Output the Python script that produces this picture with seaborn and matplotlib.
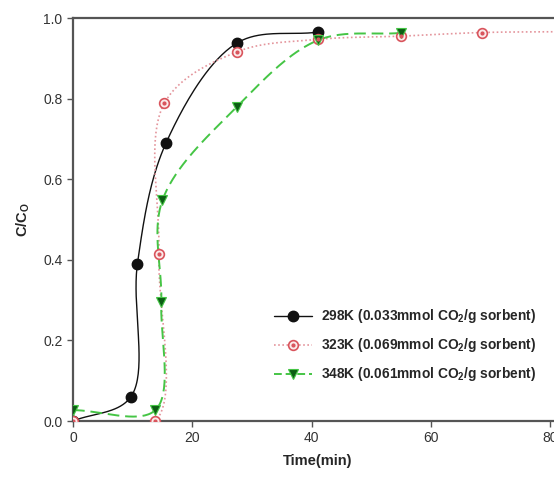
import numpy as np
import matplotlib
matplotlib.use("Agg")
import matplotlib.pyplot as plt
import seaborn as sns
from matplotlib.lines import Line2D
from matplotlib.legend_handler import HandlerTuple

# breakthrough data
t_298 = [0.0, 9.7, 10.8, 15.6, 27.5, 41.1]
c_298 = [0.0, 0.06, 0.39, 0.69, 0.938, 0.965]

t_323 = [0.0, 13.8, 14.4, 15.3, 27.5, 41.1, 55.0, 68.6, 82.0]
c_323 = [0.0, 0.0, 0.414, 0.788, 0.916, 0.947, 0.955, 0.964, 0.966]

t_348 = [0.0, 13.8, 14.8, 15.0, 27.5, 41.1, 55.0]
c_348 = [0.027, 0.027, 0.295, 0.548, 0.78, 0.945, 0.963]

labels = ["298K (0.033mmol CO$_\\mathbf{2}$/g sorbent)",
          "323K (0.069mmol CO$_\\mathbf{2}$/g sorbent)",
          "348K (0.061mmol CO$_\\mathbf{2}$/g sorbent)"]

XMAX = 82.0
SX = 488 / XMAX   # screen px per minute
SY = 404          # screen px per unit C/Co


def catmull_rom(x, y, n=40):
    # centripetal Catmull-Rom through the points, worked out in screen units
    P = np.column_stack([np.asarray(x) * SX, np.asarray(y) * SY])
    P = np.vstack([2 * P[0] - P[1], P, 2 * P[-1] - P[-2]])
    out = []
    for i in range(1, len(P) - 2):
        p0, p1, p2, p3 = P[i - 1], P[i], P[i + 1], P[i + 2]
        t0 = 0.0
        t1 = t0 + np.linalg.norm(p1 - p0) ** 0.5
        t2 = t1 + np.linalg.norm(p2 - p1) ** 0.5
        t3 = t2 + np.linalg.norm(p3 - p2) ** 0.5
        t = np.linspace(t1, t2, n)[:, None]
        a1 = (t1 - t) / (t1 - t0) * p0 + (t - t0) / (t1 - t0) * p1
        a2 = (t2 - t) / (t2 - t1) * p1 + (t - t1) / (t2 - t1) * p2
        a3 = (t3 - t) / (t3 - t2) * p2 + (t - t2) / (t3 - t2) * p3
        b1 = (t2 - t) / (t2 - t0) * a1 + (t - t0) / (t2 - t0) * a2
        b2 = (t3 - t) / (t3 - t1) * a2 + (t - t1) / (t3 - t1) * a3
        c = (t2 - t) / (t2 - t1) * b1 + (t - t1) / (t2 - t1) * b2
        out.append(c)
    c = np.vstack(out)
    return c[:, 0] / SX, c[:, 1] / SY


sns.set_style("ticks")
plt.rcParams["font.family"] = ["Liberation Sans", "DejaVu Sans"]
plt.rcParams["mathtext.fontset"] = "custom"
plt.rcParams["mathtext.rm"] = "Liberation Sans"
plt.rcParams["mathtext.bf"] = "Liberation Sans:bold"

fig = plt.figure(figsize=(5.54, 4.8), dpi=100)
ax = fig.add_axes([0.1318, 0.1229, 562 / 554 - 0.1318, 0.9625 - 0.1229])

blk = "#111111"
red_line = "#e4959c"
red_edge = "#d9545c"
grn_line = "#45c545"
grn_face = "#0c5e14"
red_dots = (0, (1, 1.5))
grn_dash = (0, (6, 3))

sx, sy = catmull_rom(t_298, c_298)
sns.lineplot(x=sx, y=sy, sort=False, estimator=None, color=blk, lw=1.0, ax=ax)
ax.plot(t_298, c_298, "o", ms=7.5, color=blk, ls="none", zorder=5)

sx, sy = catmull_rom(t_323, c_323)
sns.lineplot(x=sx, y=sy, sort=False, estimator=None, color=red_line, lw=1.2,
             ax=ax)
ax.lines[-1].set_linestyle(red_dots)
ax.plot(t_323, c_323, "o", ms=7, mfc="#fbeaea", mec=red_edge, mew=1.2,
        ls="none", zorder=5)
ax.plot(t_323, c_323, "o", ms=2, mfc=red_edge, mec=red_edge, ls="none",
        zorder=6)

sx, sy = catmull_rom(t_348, c_348)
sns.lineplot(x=sx, y=sy, sort=False, estimator=None, color=grn_line, lw=1.4,
             ax=ax)
ax.lines[-1].set_linestyle(grn_dash)
ax.plot(t_348, c_348, "v", ms=6.5, mfc=grn_face, mec=grn_line, mew=0.8,
        ls="none", zorder=5)

ax.set_xlim(0, XMAX)
ax.set_ylim(0, 1.0)
ax.set_xticks([0, 20, 40, 60, 80])
ax.set_yticks([0.0, 0.2, 0.4, 0.6, 0.8, 1.0])
ax.set_yticklabels(["0.0", "0.2", "0.4", "0.6", "0.8", "1.0"])
for sp in ax.spines.values():
    sp.set_color("#555555")
    sp.set_linewidth(1.6)
ax.tick_params(direction="out", length=4, width=1, colors="#555555",
               labelcolor="#333333", labelsize=10)
ax.set_xlabel("Time(min)", fontsize=10.5, fontweight="bold", labelpad=6)
ax.set_ylabel("C/C$_\\mathbf{O}$", fontsize=10.5, fontweight="bold", labelpad=8)

lh1 = Line2D([], [], color=blk, lw=1.0, marker="o", ms=7.5)
lh2 = Line2D([], [], color=red_line, lw=1.2, ls=red_dots, marker="o", ms=7,
             mfc="#fbeaea", mec=red_edge, mew=1.2)
lh2b = Line2D([], [], ls="none", marker="o", ms=2, mfc=red_edge, mec=red_edge)
lh3 = Line2D([], [], color=grn_line, lw=1.4, ls=(0, (4, 2)), marker="v", ms=6.5,
             mfc=grn_face, mec=grn_line, mew=0.8)
ax.legend([lh1, (lh2, lh2b), lh3], labels, loc="upper left",
          bbox_to_anchor=(262 / 554, (480 - 295) / 480),
          bbox_transform=fig.transFigure, frameon=False,
          prop={"weight": "bold", "size": 9.9}, handlelength=2.7,
          handletextpad=0.7, labelspacing=0.8,
          handler_map={tuple: HandlerTuple(ndivide=1)})

fig.savefig("out.png", dpi=100)
